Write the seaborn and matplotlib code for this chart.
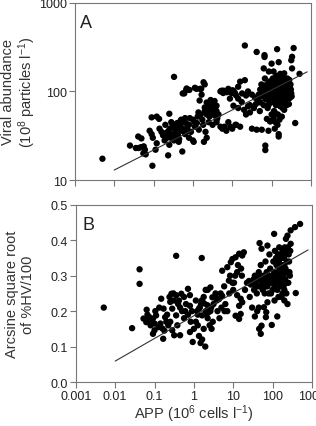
import numpy as np
import pandas as pd
import matplotlib
matplotlib.use('Agg')
import matplotlib.pyplot as plt
import seaborn as sns
from matplotlib.ticker import NullLocator, FixedLocator, FixedFormatter

# ---- data ----
# Panel A: log10 APP (10^6 cells/l) and viral abundance (10^8 particles/l)
app_log_a = [
    -2.30, -1.60, -1.39, -1.31, -1.45, -1.38, -1.32, -1.25, -1.26, -1.20,
    -1.22, -1.03, -1.05, -0.92, -0.86, -1.05, -1.02, -1.10, -0.92, -0.85,
    -0.80, -0.76, -0.72, -0.70, -0.66, -0.62, -0.60, -0.58, -0.55, -0.52,
    -0.50, -0.48, -0.45, -0.42, -0.40, -0.38, -0.35, -0.32, -0.30, -0.60,
    -0.48, -0.95, -0.63, -0.27, -0.22, -0.16, -0.09, 0.05, 0.18, 0.22,
    0.27, 0.30, -0.25, -0.20, -0.15, -0.10, -0.05, 0.00, 0.05, 0.10,
    0.15, 0.12, 0.20, -0.10, 0.00, -0.30, -0.20, 0.02, 0.32, 0.35,
    0.28, 0.30, 0.35, 0.40, 0.42, 0.45, 0.48, 0.50, 0.52, 0.55,
    0.58, 0.60, 0.62, 0.35, 0.45, 0.55, 0.60, 0.40, 0.50, 0.65,
    0.30, 0.70, 0.78, 0.86, 0.93, 1.00, 1.05, 1.10, 0.73, 0.90,
    1.03, 0.77, 0.98, 1.07, 0.09, 0.21, -0.17, -0.26, 0.17, 0.43,
    0.51, 0.60, 0.51, 0.94, 1.15, 1.24, 1.03, 1.15, 0.80, 0.95,
    1.08, 1.20, 1.10, 1.50, 1.62, 1.75, 1.92, 1.84, 1.84, 2.18,
    2.18, 2.60, 1.97, 1.96, 1.88, 1.32, 1.62, 1.82, 1.82, 2.14,
    2.56, 2.52, 2.50, 2.00, 2.18, 2.52, 2.71, 1.80, 1.93, 2.05,
    2.22, 1.32, 1.20, 1.15, 1.45, 1.58, 1.67, 1.71, 1.50, 1.70,
    1.72, 1.75, 1.78, 1.80, 1.82, 1.85, 1.88, 1.90, 1.92, 1.95,
    1.96, 1.98, 2.00, 2.02, 2.03, 2.05, 2.06, 2.08, 2.10, 2.11,
    2.12, 2.14, 2.15, 2.16, 2.18, 2.19, 2.20, 2.21, 2.22, 2.24,
    2.25, 2.26, 2.27, 2.28, 2.30, 2.31, 2.32, 2.33, 2.35, 2.36,
    2.37, 2.38, 2.40, 2.42, 2.44, 2.45, 2.47, 2.48, 2.50, 2.05,
    2.10, 2.00, 2.20, 2.15, 2.08, 2.25, 2.30, 2.40, 2.45, 1.30,
    1.35, 1.40, 1.45, 1.55, 1.60, 1.65, 1.35, 1.40, 1.25, 0.60,
    0.70, 0.75, 0.85, 0.90, 1.00,
    1.74, 1.79, 1.83, 1.86, 1.89, 1.91, 1.94, 1.97, 1.99, 2.01,
    2.04, 2.07, 2.09, 2.13, 2.17, 2.19, 2.23, 2.26, 2.29, 2.33,
    2.34, 2.36, 2.39, 2.41, 2.43, 2.46, 2.49, 2.51, 2.38, 2.28,
    2.18, 2.08, 1.98, 2.12, 2.22, 2.32, 2.42, 2.02, 1.92, 2.26,
    -0.68, -0.56, -0.46, -0.36, -0.26, -0.18, -0.08, 0.04, 0.14, 0.24,
    0.34, 0.44, 0.54, -0.44, -0.34, 0.26, 0.38, 0.46, -0.58, -0.12,
]
viral_a = [
    17.4, 24.5, 31, 29.5, 23, 23, 23.5, 24, 20, 19.5,
    22, 14.5, 51, 52, 49, 33, 30, 36, 26, 38,
    35, 32, 28, 42, 30, 36, 25, 33, 45, 40,
    30, 28, 35, 38, 44, 32, 29, 40, 36, 56,
    146, 22, 19, 21, 95, 108, 104, 110, 107, 92,
    127, 120, 45, 50, 38, 42, 35, 48, 40, 44,
    37, 52, 55, 30, 28, 48, 33, 27, 35, 30,
    27, 60, 55, 70, 52, 65, 58, 72, 62, 54,
    68, 60, 50, 75, 80, 78, 48, 45, 42, 55,
    66, 100, 102, 98, 101, 103, 95, 90, 102, 107,
    102, 96, 96, 96, 107, 107, 104, 95, 79, 72,
    69, 69, 65, 83, 83, 76, 69, 65, 40, 40,
    42, 40, 42, 38, 37, 37, 36, 24.5, 21.8, 33,
    31, 44, 46, 46, 49, 330, 279, 257, 245, 300,
    309, 246, 225, 206, 214, 182, 158, 182, 168, 168,
    158, 134, 129, 113, 70, 85, 92, 105, 92, 60,
    75, 88, 95, 70, 110, 82, 120, 65, 100, 90,
    130, 75, 110, 95, 140, 85, 60, 120, 100, 70,
    150, 90, 115, 55, 105, 80, 130, 95, 68, 110,
    85, 125, 100, 75, 92, 118, 62, 105, 88, 135,
    98, 78, 112, 90, 72, 100, 85, 120, 95, 50,
    45, 55, 48, 42, 38, 140, 145, 140, 135, 62,
    55, 68, 58, 65, 72, 80, 90, 100, 95, 45,
    40, 38, 36, 45, 38,
    120, 105, 140, 95, 110, 80, 125, 98, 118, 88,
    125, 108, 78, 102, 92, 145, 88, 118, 108, 82,
    100, 125, 95, 128, 82, 115, 105, 88, 70, 65,
    72, 58, 82, 135, 150, 160, 100, 92, 70, 52,
    34, 30, 42, 27, 38, 44, 50, 45, 58, 48,
    62, 58, 66, 31, 45, 42, 66, 55, 38, 36,
]

# Panel B: log10 APP and arcsine square root of %HV/100
app_log_b = [
    -2.29, -1.57, -1.38, -1.38, -0.45, 0.20, -1.20, -1.28, -1.21, -1.13,
    -1.04, -1.00, -0.96, -1.04, -1.00, -1.15, -1.10, -0.83, -0.77, -0.73,
    -0.85, -0.80, -0.78, -0.90, -0.70, -0.75, -0.57, -0.45, -0.32, -0.15,
    -0.62, -0.50, -0.40, -0.25, -0.10, -0.60, -0.55, -0.45, -0.60, -0.55,
    -0.50, -0.35, -0.65, -0.42, -0.30, -0.20, -0.25, -0.35, -0.15, -0.10,
    -0.03, -0.10, 0.29, 0.17, 0.21, 0.13, 0.00, 0.05, 0.10, -0.05,
    0.15, 0.20, 0.25, 0.30, 0.35, 0.30, 0.35, 0.40, 0.45, 0.42,
    0.50, 0.55, 0.48, 0.05, 0.10, 0.25, 0.38, 0.72, 0.85, 0.94,
    0.98, 1.06, 1.15, 1.23, 1.27, 0.89, 0.98, 0.77, 0.55, 0.42,
    0.47, 0.64, 0.72, 0.26, 0.34, 0.13, 0.38, 0.21, 1.19, 1.15,
    1.06, 1.15, 1.23, 1.19, 1.10, 1.00, 1.05, 1.10, 1.20, 0.90,
    0.80, 0.85, 0.60, 0.70, 0.65, 2.70, 2.57, 2.46, 2.38, 2.34,
    2.04, 1.67, 1.87, 1.72, 2.59, 1.70, 1.66, 1.72, 1.98, 2.12,
    1.83, 1.84, 1.78, 1.87, 1.61, 1.65, 1.55, 1.50, 1.53, 1.55,
    1.58, 1.60, 1.62, 1.65, 1.68, 1.70, 1.72, 1.75, 1.77, 1.80,
    1.82, 1.85, 1.87, 1.90, 1.92, 1.94, 1.96, 1.98, 2.00, 2.02,
    2.04, 2.06, 2.08, 2.10, 2.12, 2.14, 2.15, 2.17, 2.18, 2.20,
    2.22, 2.23, 2.25, 2.27, 2.28, 2.30, 2.32, 2.34, 2.35, 2.37,
    2.39, 2.40, 2.42, 2.44, 2.45, 2.30, 2.38, 1.35, 1.40, 1.45,
    1.30, 1.42, 1.48,
    1.52, 1.57, 1.63, 1.67, 1.73, 1.78, 1.83, 1.88, 1.93, 1.97,
    2.01, 2.05, 2.09, 2.13, 2.16, 2.19, 2.21, 2.24, 2.26, 2.29,
    2.31, 2.33, 2.36, 2.38, 2.41, 2.43, 2.46, 2.20, 2.10, 2.00,
    1.90, 1.80, 2.30, 2.25, 2.15, 2.05, 2.35, 2.28, 2.18, 2.08,
    -1.18, -1.08, -0.98, -0.88, -0.68, -0.52, -0.38, -0.22, -0.08, 0.08,
    0.18, 0.32, 0.44, 0.58, 0.68, 0.78, 0.92, 1.02, 1.12, 1.22,
]
hv_b = [
    0.210, 0.152, 0.318, 0.277, 0.356, 0.350, 0.204, 0.179, 0.169, 0.183,
    0.179, 0.165, 0.188, 0.136, 0.146, 0.175, 0.160, 0.235, 0.207, 0.183,
    0.165, 0.151, 0.122, 0.155, 0.170, 0.145, 0.249, 0.245, 0.249, 0.263,
    0.240, 0.230, 0.220, 0.240, 0.245, 0.226, 0.207, 0.188, 0.170, 0.146,
    0.132, 0.132, 0.160, 0.160, 0.200, 0.220, 0.180, 0.210, 0.190, 0.215,
    0.113, 0.141, 0.100, 0.110, 0.120, 0.130, 0.150, 0.170, 0.190, 0.200,
    0.210, 0.230, 0.240, 0.260, 0.260, 0.200, 0.180, 0.160, 0.150, 0.200,
    0.220, 0.240, 0.170, 0.230, 0.160, 0.150, 0.210, 0.314, 0.324, 0.338,
    0.347, 0.352, 0.362, 0.357, 0.366, 0.286, 0.280, 0.270, 0.250, 0.267,
    0.239, 0.234, 0.243, 0.222, 0.217, 0.207, 0.198, 0.188, 0.192, 0.178,
    0.187, 0.215, 0.225, 0.235, 0.245, 0.260, 0.300, 0.310, 0.320, 0.250,
    0.220, 0.200, 0.200, 0.210, 0.180, 0.446, 0.437, 0.428, 0.413, 0.404,
    0.418, 0.392, 0.385, 0.376, 0.251, 0.136, 0.150, 0.159, 0.161, 0.185,
    0.183, 0.197, 0.211, 0.225, 0.200, 0.210, 0.185, 0.280, 0.260, 0.300,
    0.270, 0.250, 0.290, 0.310, 0.270, 0.330, 0.290, 0.260, 0.300, 0.280,
    0.340, 0.310, 0.270, 0.290, 0.360, 0.320, 0.250, 0.300, 0.280, 0.340,
    0.310, 0.370, 0.290, 0.330, 0.260, 0.360, 0.300, 0.380, 0.320, 0.280,
    0.350, 0.240, 0.310, 0.370, 0.270, 0.330, 0.290, 0.360, 0.250, 0.310,
    0.380, 0.280, 0.340, 0.300, 0.370, 0.230, 0.220, 0.280, 0.285, 0.275,
    0.260, 0.240, 0.210,
    0.290, 0.280, 0.270, 0.300, 0.280, 0.290, 0.270, 0.300, 0.280, 0.290,
    0.300, 0.270, 0.350, 0.310, 0.340, 0.360, 0.300, 0.330, 0.370, 0.350,
    0.380, 0.320, 0.340, 0.370, 0.360, 0.310, 0.390, 0.270, 0.280, 0.260,
    0.250, 0.250, 0.260, 0.250, 0.240, 0.230, 0.280, 0.300, 0.290, 0.280,
    0.190, 0.170, 0.200, 0.210, 0.190, 0.250, 0.230, 0.200, 0.170, 0.200,
    0.220, 0.190, 0.210, 0.230, 0.250, 0.200, 0.300, 0.280, 0.330, 0.300,
]

# regression lines as drawn (x range and log-linear coefficients)
fit_app = [0.01, 800]
fit_a = (1.565, 0.226)   # log10(V) = a + b*log10(APP)
fit_b = (0.187, 0.064)   # y = a + b*log10(APP)

x_ticks = [0.001, 0.01, 0.1, 1, 10, 100, 1000]
x_labels = ['0.001', '0.01', '0.1', '1', '10', '100', '1000']

df_a = pd.DataFrame({'app': 10 ** np.array(app_log_a), 'viral': viral_a})
df_b = pd.DataFrame({'app': 10 ** np.array(app_log_b), 'hv': hv_b})

sns.set_style('ticks')
plt.rcParams['font.family'] = ['Liberation Sans', 'DejaVu Sans']
plt.rcParams['mathtext.default'] = 'regular'

fig = plt.figure(figsize=(3.16, 4.27), dpi=100)
ax_a = fig.add_axes([0.237, 0.576, 0.747, 0.415])
ax_b = fig.add_axes([0.240, 0.103, 0.747, 0.415])

sns.scatterplot(data=df_a, x='app', y='viral', ax=ax_a, color='black',
                s=21, edgecolor='none', legend=False)
sns.scatterplot(data=df_b, x='app', y='hv', ax=ax_b, color='black',
                s=21, edgecolor='none', legend=False)

fx = np.array(fit_app)
ax_a.plot(fx, 10 ** (fit_a[0] + fit_a[1] * np.log10(fx)), color='#333333', lw=0.8)
ax_b.plot(fx, fit_b[0] + fit_b[1] * np.log10(fx), color='#333333', lw=0.8)

for ax in (ax_a, ax_b):
    ax.set_xscale('log')
    ax.set_xlim(0.001, 1000)
    ax.xaxis.set_major_locator(FixedLocator(x_ticks))
    ax.xaxis.set_minor_locator(NullLocator())
    for sp in ax.spines.values():
        sp.set_visible(True)
        sp.set_color('#777777')
        sp.set_linewidth(0.8)
    ax.tick_params(direction='out', length=4, width=0.8, color='#777777',
                   labelcolor='#222222', labelsize=9, pad=1.5)

ax_a.set_yscale('log')
ax_a.set_ylim(10, 1000)
ax_a.yaxis.set_major_locator(FixedLocator([10, 100, 1000]))
ax_a.yaxis.set_major_formatter(FixedFormatter(['10', '100', '1000']))
ax_a.yaxis.set_minor_locator(NullLocator())
ax_a.set_xticklabels([])
ax_a.set_xlabel('')
ax_a.set_ylabel('Viral abundance\n(10$^8$ particles l$^{-1}$)', fontsize=10.5,
                color='#333333', linespacing=1.1)
ax_a.yaxis.set_label_coords(-0.155, 0.5)

ax_b.set_ylim(0, 0.5)
ax_b.set_yticks([0, 0.1, 0.2, 0.3, 0.4, 0.5])
ax_b.set_yticklabels(['0.0', '0.1', '0.2', '0.3', '0.4', '0.5'])
ax_b.xaxis.set_major_formatter(FixedFormatter(x_labels))
ax_b.set_xlabel('APP (10$^6$ cells l$^{-1}$)', fontsize=10.5, color='#333333')
ax_b.xaxis.set_label_coords(0.5, -0.115)
ax_b.set_ylabel('Arcsine square root\nof %HV/100', fontsize=10.5,
                color='#333333', linespacing=1.1)
ax_b.yaxis.set_label_coords(-0.175, 0.5)

ax_a.text(0.02, 0.935, 'A', transform=ax_a.transAxes, fontsize=13,
          color='#222222', va='top')
ax_b.text(0.03, 0.935, 'B', transform=ax_b.transAxes, fontsize=13,
          color='#222222', va='top')

fig.savefig('out.png', dpi=100)
